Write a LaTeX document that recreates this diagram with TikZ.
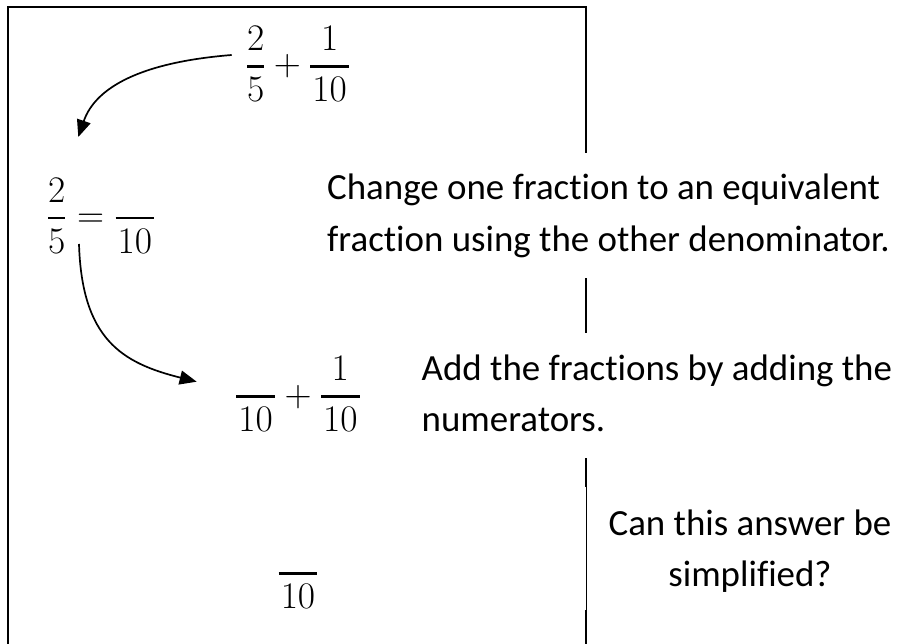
\RequirePackage{fix-cm}
\documentclass[tikz,border=0pt]{standalone}
\usepackage[no-math]{fontspec}
\newfontfamily\carlito[Ligatures=NoCommon]{Carlito}
\usetikzlibrary{arrows.meta}
\newcommand\myfrac[2]{{#1\above 2.4pt #2}}
\newcommand\ten{\mkern1mu 10\mkern1mu}
\begin{document}
\begin{tikzpicture}[x=1pt,y=-1pt,
  frame/.style={line width=1.8pt},
  thinframe/.style={line width=0.8pt},
  flow/.style={line width=1.7pt,-{Triangle[length=17pt,width=14pt]}},
  mathnode/.style={inner sep=0pt,font=\fontsize{37.5}{44}\selectfont},
  note/.style={inner sep=0pt,align=left,font=\fontsize{36.9}{51.5}\selectfont\carlito},
  notec/.style={inner sep=0pt,align=center,font=\fontsize{36.9}{51.5}\selectfont\carlito}]
\useasboundingbox (0,0) rectangle (904,644);
% frame with gaps on the right side
\draw[frame] (586,153) -- (586,7) -- (8,7) -- (8,644);
\draw[frame] (586,278) -- (586,333);
\draw[frame] (586,458) -- (586,487);
\draw[thinframe] (586,487) -- (586,610);
\draw[frame] (586,610) -- (586,644);
% expressions
\node[mathnode, anchor=base] (e1) at (298,76) {$\displaystyle\myfrac{2}{5}+\myfrac{1}{\ten}$};
\node[mathnode, anchor=base west] (e2) at (46.8,227.5) {$\displaystyle\myfrac{2}{5}=\myfrac{}{\ten}$};
\node[mathnode, anchor=base] (e3) at (298,406) {$\displaystyle\myfrac{}{\ten}+\myfrac{1}{\ten}$};
\node[mathnode, anchor=base] (e4) at (298,583) {$\displaystyle\myfrac{}{\ten}$};
% notes (base anchor = baseline of the last line)
\node[note, anchor=base west] (t1) at (327,251.5) {Change one fraction to an equivalent\\fraction using the other denominator.};
\node[note, anchor=base west] (t2) at (421.5,431.5) {Add the fractions by adding the\\numerators.};
\node[notec, anchor=base] (t3) at (750,586.5) {Can this answer be\\simplified?};
% arrows
\coordinate (a1s) at (231.7,55);
\coordinate (a1e) at (78.3,137);
\draw[flow] (a1s) .. controls (141.7,62.2) and (95.5,87) .. (a1e);
\coordinate (a2s) at (79,244);
\coordinate (a2e) at (196.7,381.7);
\draw[flow] (a2s) .. controls (81.9,339) and (121.7,363) .. (a2e);
\end{tikzpicture}
\end{document}
